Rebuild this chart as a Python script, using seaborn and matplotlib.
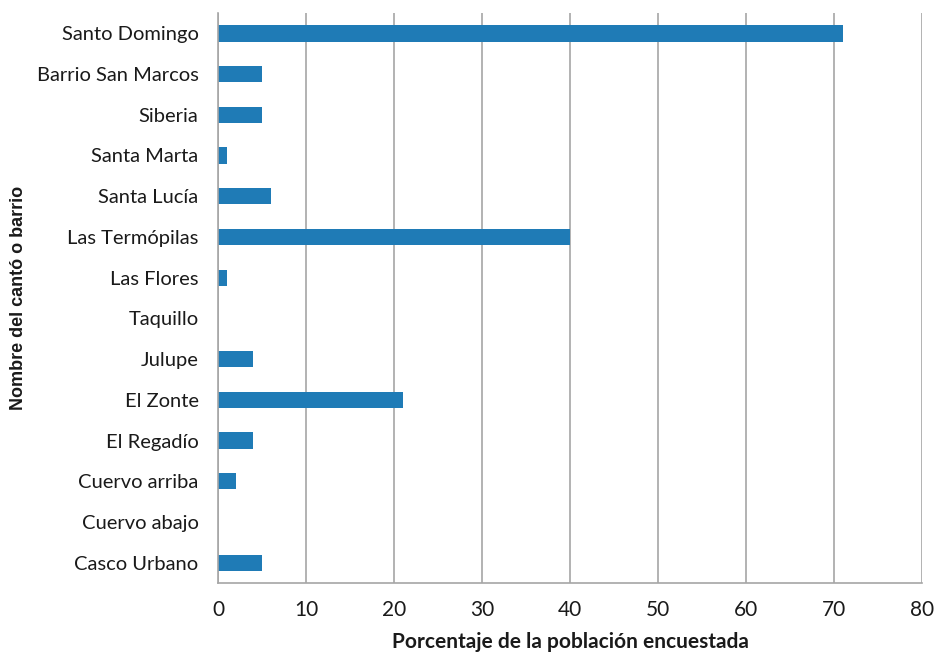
import matplotlib
matplotlib.use("Agg")
import matplotlib.pyplot as plt
import seaborn as sns
import pandas as pd

categories = ["Santo Domingo", "Barrio San Marcos", "Siberia", "Santa Marta", "Santa Lucía",
              "Las Termópilas", "Las Flores", "Taquillo", "Julupe", "El Zonte",
              "El Regadío", "Cuervo arriba", "Cuervo abajo", "Casco Urbano"]
values = [71, 5, 5, 1, 6, 40, 1, 0, 4, 21, 4, 2, 0, 5]
xticks = [0, 10, 20, 30, 40, 50, 60, 70, 80]

df = pd.DataFrame({"cat": categories, "val": values})

sns.set_theme(style="white")
plt.rcParams['font.family'] = ['Lato', 'DejaVu Sans']

fig = plt.figure(figsize=(9.36, 6.54), dpi=100)
ax = fig.add_axes([218/936, 1-583/654, (922-218)/936, (583-13)/654])

sns.barplot(data=df, x="val", y="cat", order=categories, color="#1f7bb6",
            saturation=1, width=0.4, ax=ax, edgecolor="none")

ax.set_xlim(0, 80)
ax.set_xticks(xticks)
ax.xaxis.grid(True, color="#a6a6a6", linewidth=1.2)
ax.yaxis.grid(False)
ax.set_axisbelow(True)
for s in ["top", "right"]:
    ax.spines[s].set_visible(False)
for s in ["left", "bottom"]:
    ax.spines[s].set_color("#a6a6a6")
    ax.spines[s].set_linewidth(1.2)
ax.tick_params(axis="x", direction="out", length=6, width=1.2, color="#a6a6a6",
               labelsize=15, labelcolor="#1a1a1a", pad=6)
ax.tick_params(axis="y", length=0, labelsize=14.5, labelcolor="#1a1a1a", pad=14)

ax.set_xlabel("Porcentaje de la población encuestada", fontsize=15, fontweight="bold",
              color="#1a1a1a", labelpad=9)
ylab = ax.set_ylabel("Nombre del cantó o barrio", fontsize=13, fontweight="bold",
                     color="#1a1a1a")
ylab.set_fontfamily(["Liberation Sans", "DejaVu Sans"])
ax.yaxis.set_label_coords((27 - 218) / 704, 0.5)

fig.savefig("out.png", dpi=100)
